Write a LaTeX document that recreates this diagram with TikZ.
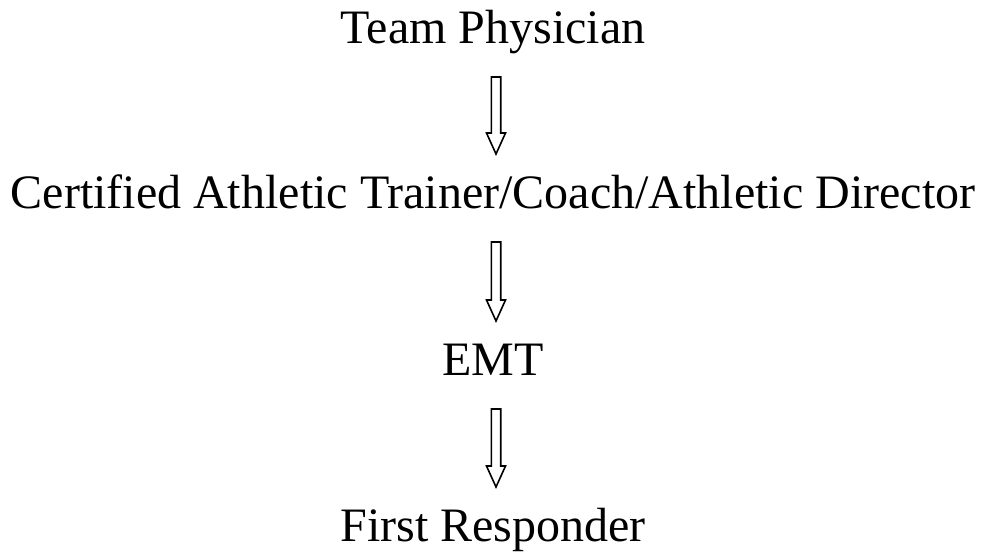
\documentclass[tikz,border=0pt]{standalone}
\usepackage{fontspec}
\setmainfont{Liberation Serif}
\usetikzlibrary{calc}
\usetikzlibrary{positioning}

\begin{document}
\begin{tikzpicture}
			[
				x = 1pt, y = -1pt,
				mylevel/.style = {anchor = base, inner sep = 0pt, font = \fontsize{48}{56}\selectfont},
				myarrow/.style = {line width = 1.6pt, line join = miter,
					to path = {let \p1 = (\tikztostart), \p2 = (\tikztotarget) in
						(\x1-1.7pt,\y1-34pt) -- (\x1-1.7pt,\y2+75pt) -- (\x1-6.5pt,\y2+75pt) -- (\x1+3pt,\y2+54pt)
						-- (\x1+12.5pt,\y2+75pt) -- (\x1+7.7pt,\y2+75pt) -- (\x1+7.7pt,\y1-34pt) -- cycle}}
			]
			\useasboundingbox (0,0) rectangle (984,552);
			%
			\node (physician) [mylevel] at (493,43) {Team Physician};
			%
			\node (trainer) [mylevel] at (493,208) {Certified Athletic Trainer/Coach/Athletic Director};
			\draw [myarrow] (physician.base) to (trainer.base);
			%
			\node (emt) [mylevel] at (493,375) {EMT};
			\draw [myarrow] (trainer.base) to (emt.base);
			%
			\node (responder) [mylevel] at (493,541) {First Responder};
			\draw [myarrow] (emt.base) to (responder.base);
			%
		\end{tikzpicture}
\end{document}
